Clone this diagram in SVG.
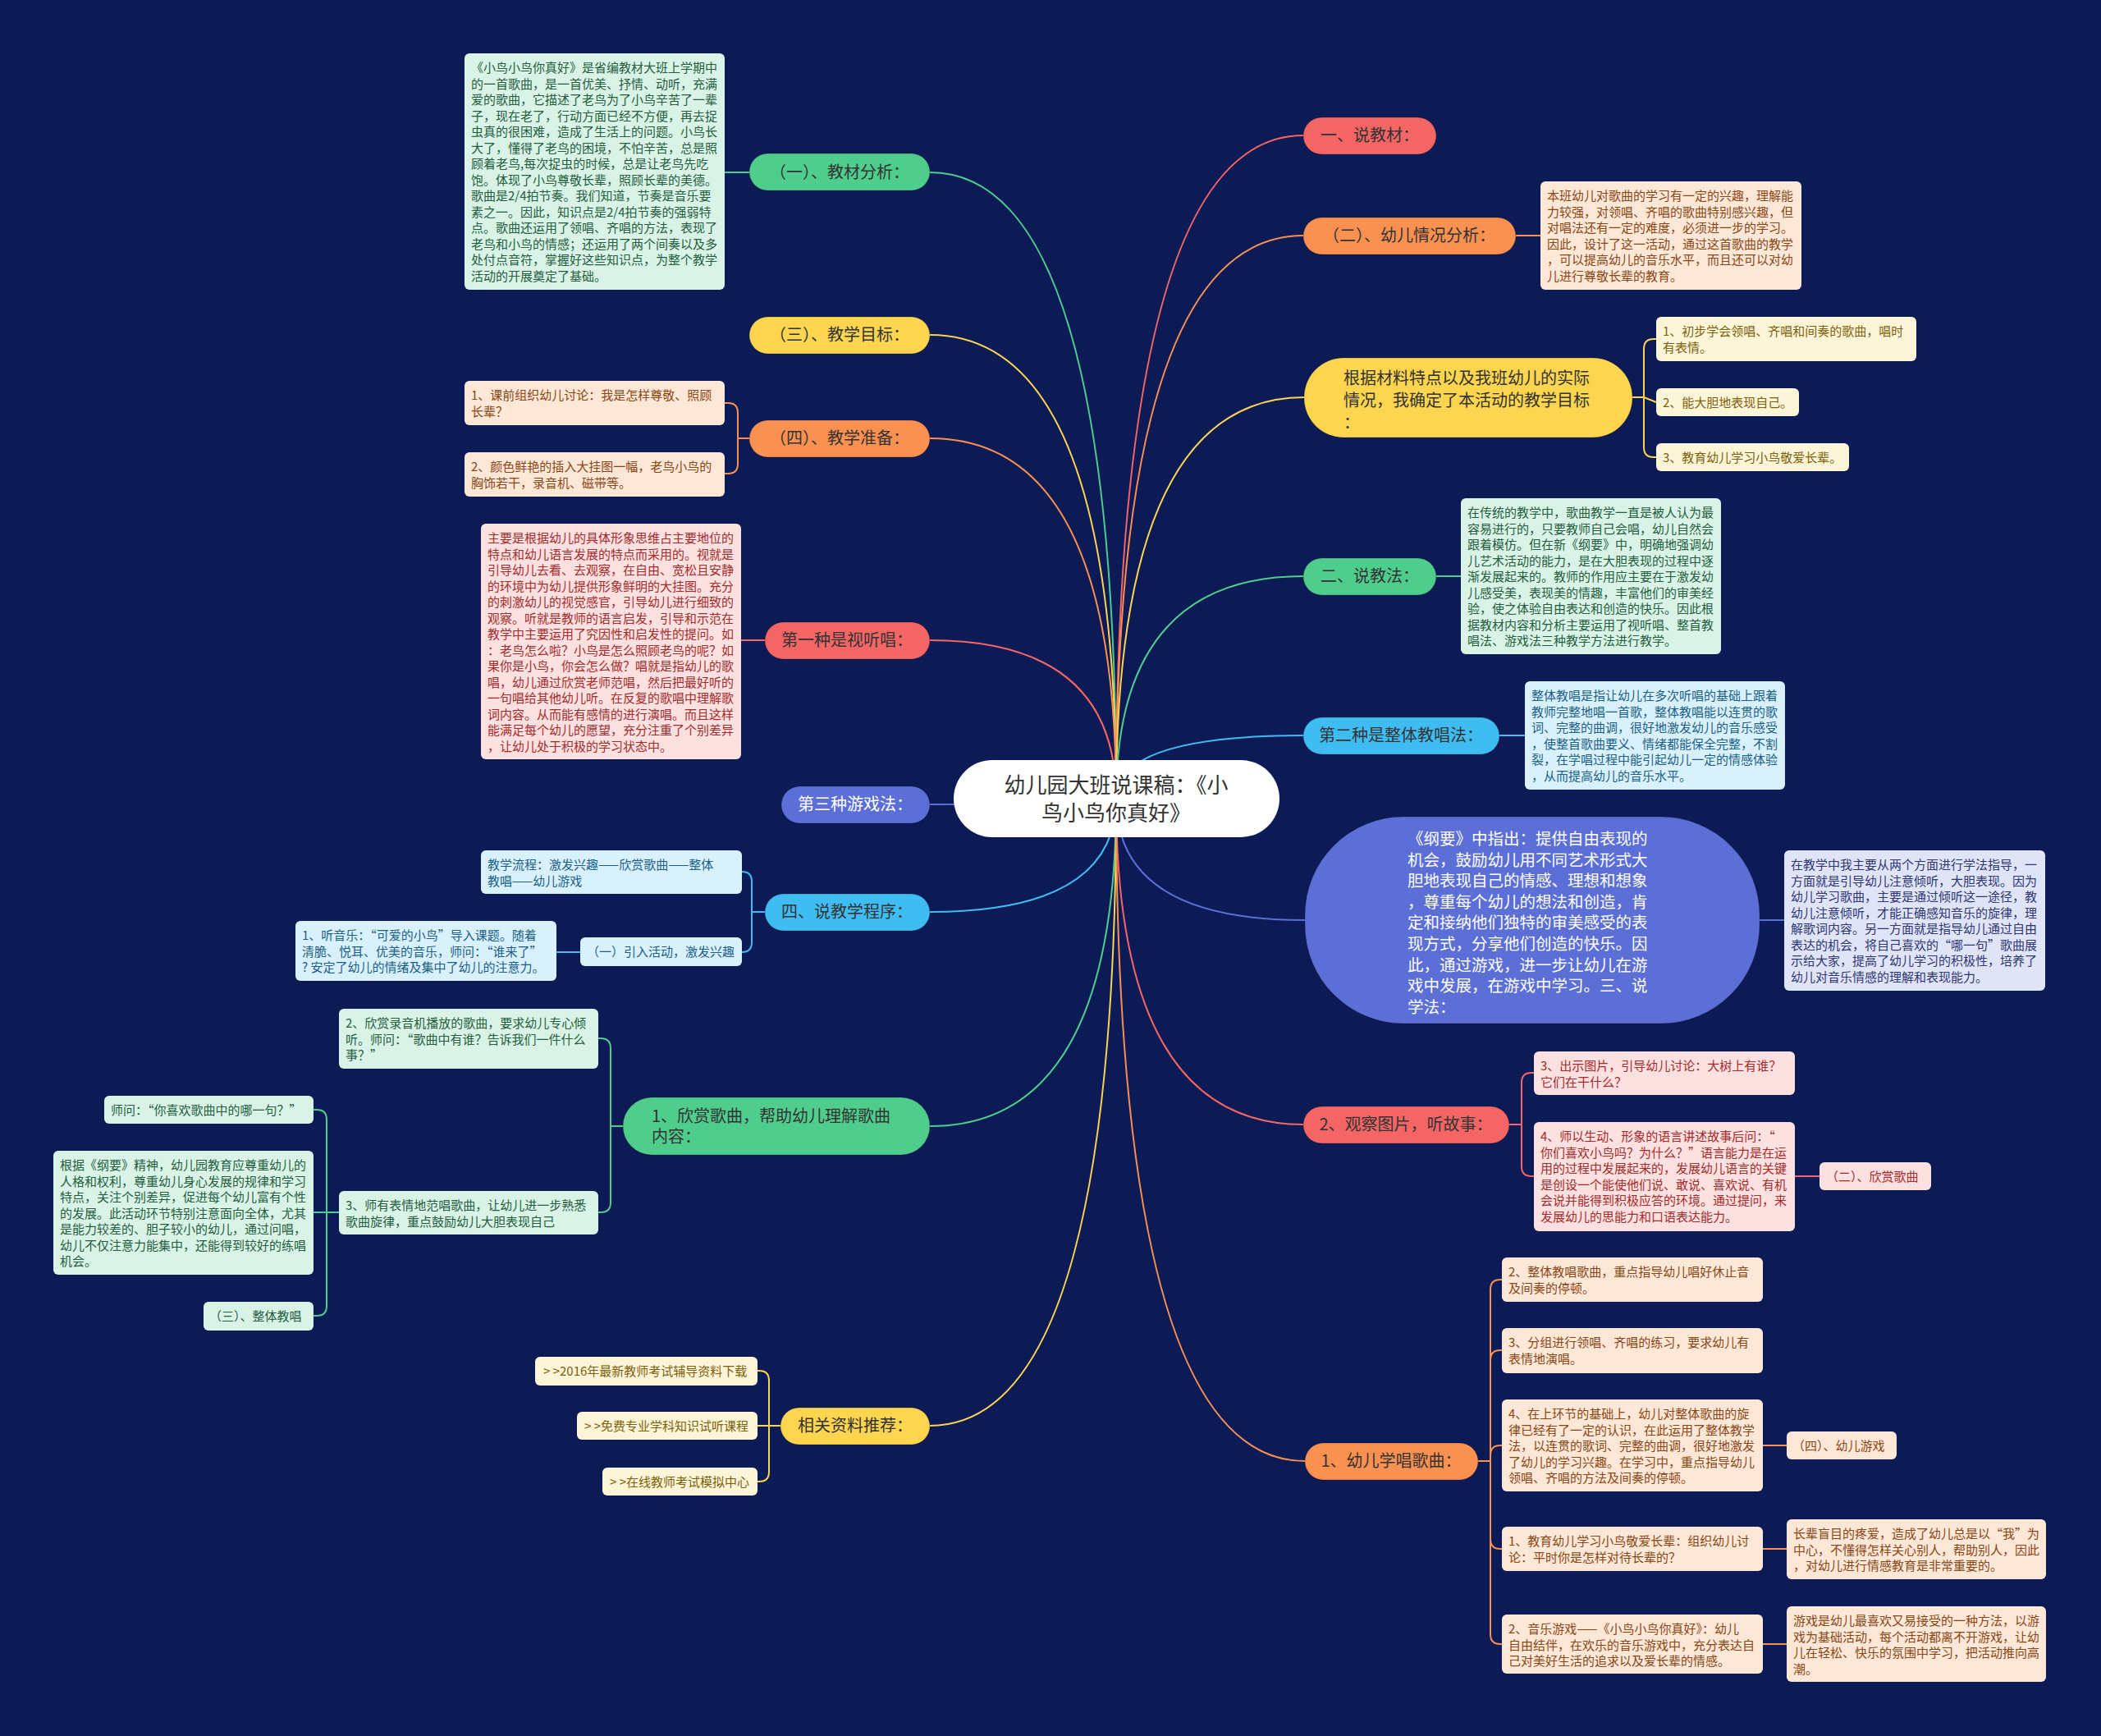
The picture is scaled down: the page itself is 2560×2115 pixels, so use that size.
<svg xmlns="http://www.w3.org/2000/svg" width="2560" height="2115" viewBox="0 0 2560 2115">
<style>
text{font-family:"Noto Sans CJK SC","Noto Sans",sans-serif}
.c path{fill:none;stroke-width:2}
.cr{stroke:#f46565}.co{stroke:#fb9150}.cy{stroke:#fdd54f}.cg{stroke:#4fcd8d}.cb{stroke:#3fbdf3}.cv{stroke:#5b6fd6}
.nr{fill:#f46565}.no{fill:#fb9150}.ny{fill:#fdd54f}.ng{fill:#4fcd8d}.nb{fill:#3fbdf3}.nv{fill:#5b6fd6}
.nd rect{stroke:#000;stroke-opacity:.15;stroke-width:1.5}
.nt{font-size:20px;fill:#333;text-anchor:middle}
.bt{font-size:15px}
.bg{fill:#d9f4e6}.tg{fill:#245c40}
.bo{fill:#fde8d8}.to{fill:#8b4513}
.bp{fill:#fde0e0}.tp{fill:#a52a2a}
.by{fill:#fdf5d8}.ty{fill:#7d5f0a}
.bb{fill:#d9f1fc}.tb{fill:#1a5f8a}
.bv{fill:#e0e4f7}.tv{fill:#2e3675}
</style>
<rect width="2560" height="2115" fill="#0c1b56"/>
<g id="connectors" class="c">
<path class="cg" d="M1360,973 Q1360,210 1133,210"/>
<path class="cy" d="M1360,973 Q1360,408 1133,408"/>
<path class="co" d="M1360,973 Q1360,534 1133,534"/>
<path class="cr" d="M1360,973 Q1360,780 1133,780"/>
<path class="cv" d="M1360,973 Q1360,980 1133,980"/>
<path class="cb" d="M1360,973 Q1360,1111 1133,1111"/>
<path class="cg" d="M1360,973 Q1360,1372 1133,1372"/>
<path class="cy" d="M1360,973 Q1360,1737 1133,1737"/>
<path class="cr" d="M1360,973 Q1360,165 1588,165"/>
<path class="co" d="M1360,973 Q1360,287 1588,287"/>
<path class="cy" d="M1360,973 Q1360,484 1589,484"/>
<path class="cg" d="M1360,973 Q1360,702 1588,702"/>
<path class="cb" d="M1360,973 Q1360,896 1588,896"/>
<path class="cv" d="M1360,973 Q1360,1121 1590,1121"/>
<path class="cr" d="M1360,973 Q1360,1370 1588,1370"/>
<path class="co" d="M1360,973 Q1360,1780 1590,1780"/>
<path class="cg" d="M913,210 H883"/>
<path class="co" d="M1847,287 H1877"/>
<path class="cy" d="M1989,484 H2003 M2003,484 V425 Q2003,413 2015,413 H2018 M2003,484 L2018,490 M2003,484 V545 Q2003,557 2015,557 H2018"/>
<path class="co" d="M913,534 H899 M899,534 V503 Q899,491 887,491 H883 M899,534 V565 Q899,577 887,577 H883"/>
<path class="cr" d="M932,780 H903"/>
<path class="cg" d="M1750,702 H1780"/>
<path class="cb" d="M1827,896 H1858"/>
<path class="cb" d="M932,1111 H916 M916,1111 V1074 Q916,1062 904,1062 M916,1111 V1148 Q916,1160 904,1160 M707,1160 H678"/>
<path class="cv" d="M2144,1121 H2174"/>
<path class="cr" d="M1839,1370 H1854 M1854,1370 V1319 Q1854,1307 1866,1307 H1869 M1854,1370 V1421 Q1854,1433 1866,1433 H1869 M2187,1433 H2217"/>
<path class="cg" d="M759,1372 H744 M744,1372 V1277 Q744,1265 732,1265 H729 M744,1372 V1465 Q744,1477 732,1477 H729"/>
<path class="cg" d="M413,1477 H382 M398,1477 V1364 Q398,1352 386,1352 H382 M398,1477 V1591 Q398,1603 386,1603 H382"/>
<path class="cy" d="M951,1737 H923 M937,1737 V1682 Q937,1670 925,1670 H923 M937,1737 V1793 Q937,1805 925,1805 H923"/>
<path class="co" d="M1801,1780 H1816 M1816,1780 V1571 Q1816,1559 1828,1559 H1830 M1816,1780 V1657 Q1816,1645 1828,1645 H1830 M1816,1780 V1773 Q1816,1761 1828,1761 H1830 M1816,1780 V1875 Q1816,1887 1828,1887 H1830 M1816,1780 V1991 Q1816,2003 1828,2003 H1830"/>
<path class="co" d="M2148,1761 H2177 M2148,1887 H2177 M2148,2003 H2177"/>
</g>

<g id="root"><rect x="1162" y="926" width="397" height="94" rx="47" fill="#fff"/>
<text x="1360" y="966" font-size="26" fill="#333" text-anchor="middle"><tspan x="1360" y="966">幼儿园大班说课稿：《小</tspan><tspan x="1360" y="1000">鸟小鸟你真好》</tspan></text></g>

<g id="n-jcfx" class="nd"><rect class="ng" x="913" y="187" width="220" height="45" rx="22.5"/><text class="nt" x="1023" y="217">（一）、教材分析：</text></g>
<g id="n-jxmb" class="nd"><rect class="ny" x="913" y="386" width="220" height="45" rx="22.5"/><text class="nt" x="1023" y="415">（三）、教学目标：</text></g>
<g id="n-jxzb" class="nd"><rect class="no" x="913" y="512" width="220" height="45" rx="22.5"/><text class="nt" x="1023" y="541">（四）、教学准备：</text></g>
<g id="n-stc" class="nd"><rect class="nr" x="932" y="758" width="201" height="45" rx="22.5"/><text class="nt" x="1032" y="787">第一种是视听唱：</text></g>
<g id="n-yxf" class="nd"><rect class="nv" x="952" y="958" width="181" height="45" rx="22.5"/><text class="nt" x="1042" y="987" style="fill:#fff">第三种游戏法：</text></g>
<g id="n-jxcx" class="nd"><rect class="nb" x="932" y="1089" width="201" height="45" rx="22.5"/><text class="nt" x="1032" y="1118">四、说教学程序：</text></g>
<g id="n-xsgq" class="nd"><rect class="ng" x="759" y="1337" width="374" height="70" rx="35"/><text class="nt" style="text-anchor:start"><tspan x="794" y="1367">1、欣赏歌曲，帮助幼儿理解歌曲</tspan><tspan x="794" y="1392">内容：</tspan></text></g>
<g id="n-xgzl" class="nd"><rect class="ny" x="951" y="1715" width="182" height="45" rx="22.5"/><text class="nt" x="1042" y="1744">相关资料推荐：</text></g>

<g id="n-sjc" class="nd"><rect class="nr" x="1588" y="143" width="162" height="45" rx="22.5"/><text class="nt" x="1669" y="172">一、说教材：</text></g>
<g id="n-yeqk" class="nd"><rect class="no" x="1588" y="265" width="259" height="45" rx="22.5"/><text class="nt" x="1717" y="294">（二）、幼儿情况分析：</text></g>
<g id="n-gjcl" class="nd"><rect class="ny" x="1589" y="436" width="400" height="97" rx="48"/><text class="nt" style="text-anchor:start"><tspan x="1637" y="468">根据材料特点以及我班幼儿的实际</tspan><tspan x="1637" y="495">情况，我确定了本活动的教学目标</tspan><tspan x="1637" y="522">：</tspan></text></g>
<g id="n-sjf" class="nd"><rect class="ng" x="1588" y="680" width="162" height="45" rx="22.5"/><text class="nt" x="1669" y="709">二、说教法：</text></g>
<g id="n-ztjc" class="nd"><rect class="nb" x="1588" y="874" width="239" height="45" rx="22.5"/><text class="nt" x="1707" y="903">第二种是整体教唱法：</text></g>
<g id="n-gy" class="nd"><rect class="nv" x="1590" y="995" width="554" height="252" rx="120"/><text style="font-size:19.5px;fill:#fff"><tspan x="1715" y="1029">《纲要》中指出：提供自由表现的</tspan><tspan x="1715" y="1054.6">机会，鼓励幼儿用不同艺术形式大</tspan><tspan x="1715" y="1080.2">胆地表现自己的情感、理想和想象</tspan><tspan x="1715" y="1105.8">，尊重每个幼儿的想法和创造，肯</tspan><tspan x="1715" y="1131.4">定和接纳他们独特的审美感受的表</tspan><tspan x="1715" y="1157">现方式，分享他们创造的快乐。因</tspan><tspan x="1715" y="1182.6">此，通过游戏，进一步让幼儿在游</tspan><tspan x="1715" y="1208.2">戏中发展，在游戏中学习。三、说</tspan><tspan x="1715" y="1233.8">学法：</tspan></text></g>
<g id="n-gctp" class="nd"><rect class="nr" x="1588" y="1348" width="251" height="45" rx="22.5"/><text class="nt" x="1713" y="1377">2、观察图片，听故事：</text></g>
<g id="n-xcgq" class="nd"><rect class="no" x="1590" y="1758" width="211" height="45" rx="22.5"/><text class="nt" x="1695" y="1787">1、幼儿学唱歌曲：</text></g>

<g id="b-jcfx"><rect class="bg" x="566" y="65" width="317" height="288" rx="6"/><text class="bt tg"><tspan x="574" y="88">《小鸟小鸟你真好》是省编教材大班上学期中</tspan><tspan x="574" y="107.5">的一首歌曲，是一首优美、抒情、动听，充满</tspan><tspan x="574" y="127">爱的歌曲，它描述了老鸟为了小鸟辛苦了一辈</tspan><tspan x="574" y="146.5">子，现在老了，行动方面已经不方便，再去捉</tspan><tspan x="574" y="166">虫真的很困难，造成了生活上的问题。小鸟长</tspan><tspan x="574" y="185.5">大了，懂得了老鸟的困境，不怕辛苦，总是照</tspan><tspan x="574" y="205">顾着老鸟,每次捉虫的时候，总是让老鸟先吃</tspan><tspan x="574" y="224.5">饱。体现了小鸟尊敬长辈，照顾长辈的美德。</tspan><tspan x="574" y="244">歌曲是2/4拍节奏。我们知道，节奏是音乐要</tspan><tspan x="574" y="263.5">素之一。因此，知识点是2/4拍节奏的强弱特</tspan><tspan x="574" y="283">点。歌曲还运用了领唱、齐唱的方法，表现了</tspan><tspan x="574" y="302.5">老鸟和小鸟的情感；还运用了两个间奏以及多</tspan><tspan x="574" y="322">处付点音符，掌握好这些知识点，为整个教学</tspan><tspan x="574" y="341.5">活动的开展奠定了基础。</tspan></text></g>

<g id="b-zb1"><rect class="bo" x="566" y="464" width="317" height="54" rx="6"/><text class="bt to"><tspan x="574" y="487">1、课前组织幼儿讨论：我是怎样尊敬、照顾</tspan><tspan x="574" y="506.5">长辈？</tspan></text></g>
<g id="b-zb2"><rect class="bo" x="566" y="551" width="317" height="54" rx="6"/><text class="bt to"><tspan x="574" y="574">2、颜色鲜艳的插入大挂图一幅，老鸟小鸟的</tspan><tspan x="574" y="593.5">胸饰若干，录音机、磁带等。</tspan></text></g>

<g id="b-stc"><rect class="bp" x="586" y="638" width="317" height="287" rx="6"/><text class="bt tp"><tspan x="594" y="661">主要是根据幼儿的具体形象思维占主要地位的</tspan><tspan x="594" y="680.5">特点和幼儿语言发展的特点而采用的。视就是</tspan><tspan x="594" y="700">引导幼儿去看、去观察，在自由、宽松且安静</tspan><tspan x="594" y="719.5">的环境中为幼儿提供形象鲜明的大挂图。充分</tspan><tspan x="594" y="739">的刺激幼儿的视觉感官，引导幼儿进行细致的</tspan><tspan x="594" y="758.5">观察。听就是教师的语言启发，引导和示范在</tspan><tspan x="594" y="778">教学中主要运用了究因性和启发性的提问。如</tspan><tspan x="594" y="797.5">：老鸟怎么啦？小鸟是怎么照顾老鸟的呢？如</tspan><tspan x="594" y="817">果你是小鸟，你会怎么做？唱就是指幼儿的歌</tspan><tspan x="594" y="836.5">唱，幼儿通过欣赏老师范唱，然后把最好听的</tspan><tspan x="594" y="856">一句唱给其他幼儿听。在反复的歌唱中理解歌</tspan><tspan x="594" y="875.5">词内容。从而能有感情的进行演唱。而且这样</tspan><tspan x="594" y="895">能满足每个幼儿的愿望，充分注重了个别差异</tspan><tspan x="594" y="914.5">，让幼儿处于积极的学习状态中。</tspan></text></g>

<g id="b-lc"><rect class="bb" x="586" y="1036" width="318" height="53" rx="6"/><text class="bt tb"><tspan x="594" y="1059">教学流程：激发兴趣——欣赏歌曲——整体</tspan><tspan x="594" y="1078.5">教唱——幼儿游戏</tspan></text></g>
<g id="b-yr"><rect class="bb" x="707" y="1142" width="197" height="35" rx="6"/><text class="bt tb" x="715" y="1165">（一）引入活动，激发兴趣</text></g>
<g id="b-tyy"><rect class="bb" x="360" y="1122" width="318" height="73" rx="6"/><text class="bt tb"><tspan x="368" y="1145">1、听音乐：“可爱的小鸟”导入课题。随着</tspan><tspan x="368" y="1164.5">清脆、悦耳、优美的音乐，师问：“谁来了”</tspan><tspan x="368" y="1184">? 安定了幼儿的情绪及集中了幼儿的注意力。</tspan></text></g>

<g id="b-xs2"><rect class="bg" x="413" y="1229" width="316" height="73" rx="6"/><text class="bt tg"><tspan x="421" y="1252">2、欣赏录音机播放的歌曲，要求幼儿专心倾</tspan><tspan x="421" y="1271.5">听。师问：“歌曲中有谁？告诉我们一件什么</tspan><tspan x="421" y="1291">事？”</tspan></text></g>
<g id="b-xs3"><rect class="bg" x="413" y="1451" width="316" height="53" rx="6"/><text class="bt tg"><tspan x="421" y="1474">3、师有表情地范唱歌曲，让幼儿进一步熟悉</tspan><tspan x="421" y="1493.5">歌曲旋律，重点鼓励幼儿大胆表现自己</tspan></text></g>
<g id="b-sw"><rect class="bg" x="127" y="1335" width="255" height="34" rx="6"/><text class="bt tg" x="135" y="1358">师问：“你喜欢歌曲中的哪一句？”</text></g>
<g id="b-gyjs"><rect class="bg" x="65" y="1402" width="317" height="151" rx="6"/><text class="bt tg"><tspan x="73" y="1425">根据《纲要》精神，幼儿园教育应尊重幼儿的</tspan><tspan x="73" y="1444.5">人格和权利，尊重幼儿身心发展的规律和学习</tspan><tspan x="73" y="1464">特点，关注个别差异，促进每个幼儿富有个性</tspan><tspan x="73" y="1483.5">的发展。此活动环节特别注意面向全体，尤其</tspan><tspan x="73" y="1503">是能力较差的、胆子较小的幼儿，通过问唱，</tspan><tspan x="73" y="1522.5">幼儿不仅注意力能集中，还能得到较好的练唱</tspan><tspan x="73" y="1542">机会。</tspan></text></g>
<g id="b-ztjc3"><rect class="bg" x="248" y="1586" width="134" height="35" rx="6"/><text class="bt tg" x="255" y="1609">（三）、整体教唱</text></g>

<g id="b-zl1"><rect class="by" x="652" y="1653" width="271" height="35" rx="6"/><text class="bt ty" x="662" y="1676">> >2016年最新教师考试辅导资料下载</text></g>
<g id="b-zl2"><rect class="by" x="703" y="1720" width="220" height="34" rx="6"/><text class="bt ty" x="712" y="1743">> >免费专业学科知识试听课程</text></g>
<g id="b-zl3"><rect class="by" x="734" y="1788" width="189" height="34" rx="6"/><text class="bt ty" x="743" y="1811">> >在线教师考试模拟中心</text></g>

<g id="b-yeqk"><rect class="bo" x="1877" y="221" width="318" height="132" rx="6"/><text class="bt to"><tspan x="1885" y="244">本班幼儿对歌曲的学习有一定的兴趣，理解能</tspan><tspan x="1885" y="263.5">力较强，对领唱、齐唱的歌曲特别感兴趣，但</tspan><tspan x="1885" y="283">对唱法还有一定的难度，必须进一步的学习。</tspan><tspan x="1885" y="302.5">因此，设计了这一活动，通过这首歌曲的教学</tspan><tspan x="1885" y="322">，可以提高幼儿的音乐水平，而且还可以对幼</tspan><tspan x="1885" y="341.5">儿进行尊敬长辈的教育。</tspan></text></g>

<g id="b-mb1"><rect class="by" x="2018" y="386" width="317" height="54" rx="6"/><text class="bt ty"><tspan x="2026" y="409">1、初步学会领唱、齐唱和间奏的歌曲，唱时</tspan><tspan x="2026" y="428.5">有表情。</tspan></text></g>
<g id="b-mb2"><rect class="by" x="2018" y="473" width="174" height="34" rx="6"/><text class="bt ty" x="2026" y="496">2、能大胆地表现自己。</text></g>
<g id="b-mb3"><rect class="by" x="2018" y="540" width="235" height="34" rx="6"/><text class="bt ty" x="2026" y="563">3、教育幼儿学习小鸟敬爱长辈。</text></g>

<g id="b-sjf"><rect class="bg" x="1780" y="607" width="317" height="190" rx="6"/><text class="bt tg"><tspan x="1788" y="630">在传统的教学中，歌曲教学一直是被人认为最</tspan><tspan x="1788" y="649.5">容易进行的，只要教师自己会唱，幼儿自然会</tspan><tspan x="1788" y="669">跟着模仿。但在新《纲要》中，明确地强调幼</tspan><tspan x="1788" y="688.5">儿艺术活动的能力，是在大胆表现的过程中逐</tspan><tspan x="1788" y="708">渐发展起来的。教师的作用应主要在于激发幼</tspan><tspan x="1788" y="727.5">儿感受美，表现美的情趣，丰富他们的审美经</tspan><tspan x="1788" y="747">验，使之体验自由表达和创造的快乐。因此根</tspan><tspan x="1788" y="766.5">据教材内容和分析主要运用了视听唱、整首教</tspan><tspan x="1788" y="786">唱法、游戏法三种教学方法进行教学。</tspan></text></g>

<g id="b-ztjc"><rect class="bb" x="1858" y="830" width="317" height="132" rx="6"/><text class="bt tb"><tspan x="1866" y="853">整体教唱是指让幼儿在多次听唱的基础上跟着</tspan><tspan x="1866" y="872.5">教师完整地唱一首歌，整体教唱能以连贯的歌</tspan><tspan x="1866" y="892">词、完整的曲调，很好地激发幼儿的音乐感受</tspan><tspan x="1866" y="911.5">，使整首歌曲要义、情绪都能保全完整，不割</tspan><tspan x="1866" y="931">裂，在学唱过程中能引起幼儿一定的情感体验</tspan><tspan x="1866" y="950.5">，从而提高幼儿的音乐水平。</tspan></text></g>

<g id="b-xf"><rect class="bv" x="2174" y="1036" width="318" height="171" rx="6"/><text class="bt tv"><tspan x="2182" y="1059">在教学中我主要从两个方面进行学法指导，一</tspan><tspan x="2182" y="1078.5">方面就是引导幼儿注意倾听，大胆表现。因为</tspan><tspan x="2182" y="1098">幼儿学习歌曲，主要是通过倾听这一途径，教</tspan><tspan x="2182" y="1117.5">幼儿注意倾听，才能正确感知音乐的旋律，理</tspan><tspan x="2182" y="1137">解歌词内容。另一方面就是指导幼儿通过自由</tspan><tspan x="2182" y="1156.5">表达的机会，将自己喜欢的“哪一句”歌曲展</tspan><tspan x="2182" y="1176">示给大家，提高了幼儿学习的积极性，培养了</tspan><tspan x="2182" y="1195.5">幼儿对音乐情感的理解和表现能力。</tspan></text></g>

<g id="b-cstp"><rect class="bp" x="1869" y="1281" width="318" height="53" rx="6"/><text class="bt tp"><tspan x="1877" y="1304">3、出示图片，引导幼儿讨论：大树上有谁？</tspan><tspan x="1877" y="1323.5">它们在干什么？</tspan></text></g>
<g id="b-sysd"><rect class="bp" x="1869" y="1367" width="318" height="133" rx="6"/><text class="bt tp"><tspan x="1877" y="1390">4、师以生动、形象的语言讲述故事后问：“</tspan><tspan x="1877" y="1409.5">你们喜欢小鸟吗？为什么？”语言能力是在运</tspan><tspan x="1877" y="1429">用的过程中发展起来的，发展幼儿语言的关键</tspan><tspan x="1877" y="1448.5">是创设一个能使他们说、敢说、喜欢说、有机</tspan><tspan x="1877" y="1468">会说并能得到积极应答的环境。通过提问，来</tspan><tspan x="1877" y="1487.5">发展幼儿的思能力和口语表达能力。</tspan></text></g>
<g id="b-xsgq2"><rect class="bp" x="2217" y="1416" width="136" height="34" rx="6"/><text class="bt tp" x="2225" y="1439">（二）、欣赏歌曲</text></g>

<g id="b-xc2"><rect class="bo" x="1830" y="1532" width="318" height="54" rx="6"/><text class="bt to"><tspan x="1838" y="1555">2、整体教唱歌曲，重点指导幼儿唱好休止音</tspan><tspan x="1838" y="1574.5">及间奏的停顿。</tspan></text></g>
<g id="b-xc3"><rect class="bo" x="1830" y="1618" width="318" height="55" rx="6"/><text class="bt to"><tspan x="1838" y="1641">3、分组进行领唱、齐唱的练习，要求幼儿有</tspan><tspan x="1838" y="1660.5">表情地演唱。</tspan></text></g>
<g id="b-xc4"><rect class="bo" x="1830" y="1705" width="318" height="112" rx="6"/><text class="bt to"><tspan x="1838" y="1728">4、在上环节的基础上，幼儿对整体歌曲的旋</tspan><tspan x="1838" y="1747.5">律已经有了一定的认识，在此运用了整体教学</tspan><tspan x="1838" y="1767">法，以连贯的歌词、完整的曲调，很好地激发</tspan><tspan x="1838" y="1786.5">了幼儿的学习兴趣。在学习中，重点指导幼儿</tspan><tspan x="1838" y="1806">领唱、齐唱的方法及间奏的停顿。</tspan></text></g>
<g id="b-yeyx"><rect class="bo" x="2177" y="1744" width="134" height="34" rx="6"/><text class="bt to" x="2184" y="1767">（四）、幼儿游戏</text></g>
<g id="b-xc1"><rect class="bo" x="1830" y="1860" width="318" height="54" rx="6"/><text class="bt to"><tspan x="1838" y="1883">1、教育幼儿学习小鸟敬爱长辈：组织幼儿讨</tspan><tspan x="1838" y="1902.5">论：平时你是怎样对待长辈的？</tspan></text></g>
<g id="b-zbmm"><rect class="bo" x="2177" y="1851" width="316" height="73" rx="6"/><text class="bt to"><tspan x="2185" y="1874">长辈盲目的疼爱，造成了幼儿总是以“我”为</tspan><tspan x="2185" y="1893.5">中心，不懂得怎样关心别人，帮助别人，因此</tspan><tspan x="2185" y="1913">，对幼儿进行情感教育是非常重要的。</tspan></text></g>
<g id="b-yyyx"><rect class="bo" x="1830" y="1967" width="318" height="72" rx="6"/><text class="bt to"><tspan x="1838" y="1990">2、音乐游戏——《小鸟小鸟你真好》：幼儿</tspan><tspan x="1838" y="2009.5">自由结伴，在欢乐的音乐游戏中，充分表达自</tspan><tspan x="1838" y="2029">己对美好生活的追求以及爱长辈的情感。</tspan></text></g>
<g id="b-yxs"><rect class="bo" x="2177" y="1957" width="316" height="92" rx="6"/><text class="bt to"><tspan x="2185" y="1980">游戏是幼儿最喜欢又易接受的一种方法，以游</tspan><tspan x="2185" y="1999.5">戏为基础活动，每个活动都离不开游戏，让幼</tspan><tspan x="2185" y="2019">儿在轻松、快乐的氛围中学习，把活动推向高</tspan><tspan x="2185" y="2038.5">潮。</tspan></text></g>
</svg>
